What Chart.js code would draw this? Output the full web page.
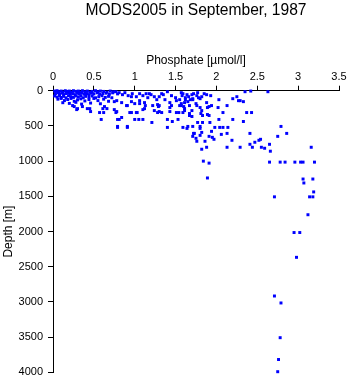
<!DOCTYPE html>
<html>
<head>
<meta charset="utf-8">
<title>MODS2005 phosphate profile</title>
<script src="https://cdn.jsdelivr.net/npm/chart.js@4.4.1/dist/chart.umd.min.js"></script>
<style>
  html, body { margin: 0; padding: 0; background: #fff; }
  #chart { display: block; }
</style>
</head>
<body>
<canvas id="chart" width="350" height="384"></canvas>
<script>
// Phosphate [umol/l] vs depth [m], one [phosphate, depth] pair per sample
const surfaceLayer = [
  [0.02, 5], [0.05, 0], [0.07, 15], [0.10, 5], [0.12, 20], [0.15, 0], [0.17, 10], [0.20, 5],
  [0.22, 20], [0.25, 0], [0.28, 10], [0.31, 5], [0.33, 20], [0.36, 0], [0.39, 15], [0.42, 5],
  [0.45, 20], [0.48, 10], [0.52, 0], [0.55, 15], [0.58, 5], [0.62, 10], [0.66, 20], [0.70, 5],
  [0.74, 15],
  [0.03, 40], [0.06, 30], [0.08, 50], [0.11, 35], [0.13, 55], [0.16, 40], [0.19, 30], [0.21, 50],
  [0.24, 40], [0.27, 55], [0.30, 35], [0.32, 45], [0.35, 30], [0.38, 50], [0.41, 40], [0.44, 55],
  [0.47, 35], [0.50, 45], [0.54, 30], [0.57, 50], [0.61, 40], [0.65, 35], [0.69, 50], [0.73, 30],
  [0.79, 45],
  [0.02, 75], [0.05, 90], [0.08, 70], [0.10, 95], [0.13, 80], [0.16, 100], [0.19, 70], [0.22, 85],
  [0.25, 95], [0.28, 75], [0.31, 90], [0.34, 70], [0.37, 100], [0.40, 80], [0.44, 90], [0.48, 75],
  [0.52, 100], [0.56, 85], [0.60, 70], [0.64, 95], [0.68, 80], [0.72, 100],
  [0.06, 120], [0.10, 110], [0.14, 140], [0.18, 125], [0.22, 110], [0.26, 150], [0.30, 130],
  [0.34, 115], [0.39, 145], [0.44, 125], [0.50, 110], [0.55, 140], [0.62, 120], [0.68, 150],
  [0.12, 170], [0.20, 180], [0.28, 165], [0.35, 190], [0.46, 175], [0.58, 185]
];

const upperLayer = [
  [0.26, 225], [0.29, 268], [0.42, 254], [0.46, 296], [0.57, 310], [0.61, 254], [0.66, 254],
  [0.75, 268], [0.59, 408], [0.79, 408], [0.79, 507], [0.91, 507], [0.63, 225], [0.24, 211],
  [0.36, 225], [0.62, 310], [0.77, 310], [0.84, 380], [0.94, 310], [1.02, 310], [0.45, 254],
  [0.30, 254],
  [0.77, 14], [0.81, 28], [0.88, 28], [0.97, 42], [1.06, 42], [1.14, 42], [1.18, 42], [1.33, 42],
  [1.40, 14], [1.57, 28], [0.96, 85], [1.02, 85], [1.16, 99], [1.24, 85], [1.37, 127], [1.51, 141],
  [1.55, 127], [0.75, 155], [0.84, 169], [0.96, 155], [1.00, 183], [1.06, 183], [1.13, 211],
  [1.27, 127], [1.28, 197], [1.43, 169], [1.45, 211], [0.91, 211], [0.78, 296], [0.96, 310],
  [1.03, 310], [1.24, 282], [1.28, 310], [1.33, 310], [1.43, 296], [1.54, 310], [1.10, 268],
  [0.81, 408], [1.00, 408], [1.05, 408], [1.10, 408], [1.21, 451], [1.40, 408], [1.46, 437],
  [1.53, 408], [0.79, 521], [0.91, 521], [1.40, 521], [1.59, 521], [1.73, 606],
  [1.12, 254], [1.22, 211], [1.30, 211], [1.51, 310], [1.61, 254], [1.67, 352], [1.83, 352],
  [1.91, 352], [2.02, 239], [1.89, 239], [1.76, 211], [1.57, 211], [1.43, 239], [2.29, 141],
  [1.91, 648], [1.95, 662], [1.75, 676], [2.54, 690], [0.78, 141], [0.90, 211], [1.06, 141],
  [1.12, 169], [1.29, 225], [1.30, 296], [1.55, 211], [1.61, 169], [1.67, 324], [1.71, 113],
  [1.58, 70], [1.62, 99], [1.66, 85], [1.72, 42], [1.68, 127], [1.62, 127], [1.85, 42], [1.78, 99],
  [0.85, 56], [0.92, 70], [1.10, 70], [1.20, 56], [1.30, 85], [1.45, 70], [1.35, 56], [1.50, 99]
];

const thermoclineLayer = [
  [1.59, 42], [1.64, 56], [1.70, 56], [1.76, 70], [1.77, 28], [1.82, 85], [1.88, 56], [1.93, 70],
  [2.35, 14], [2.42, 5], [2.63, 14], [2.20, 113], [2.25, 85], [2.27, 141], [2.33, 155], [2.03, 127],
  [1.57, 183], [1.60, 225], [1.65, 155], [1.71, 127], [1.75, 183], [1.80, 113], [1.88, 169],
  [2.13, 211], [1.91, 225], [1.94, 211], [1.80, 239], [1.67, 211], [1.61, 282], [1.70, 282],
  [1.82, 282], [1.59, 310], [2.08, 310], [2.37, 310], [2.43, 310], [1.81, 324], [1.89, 338],
  [1.70, 366], [2.03, 408], [2.20, 408], [2.33, 437], [1.77, 451], [1.83, 451], [1.92, 451],
  [1.65, 507], [1.71, 507], [1.80, 507], [1.98, 521], [2.04, 521], [2.08, 521], [2.14, 521],
  [1.64, 535], [1.80, 535], [1.94, 577], [2.79, 507], [1.82, 592], [1.80, 634], [2.13, 606],
  [2.06, 620], [2.41, 606], [2.86, 606], [1.72, 606], [1.71, 648], [2.75, 648], [1.97, 690],
  [1.86, 718], [1.76, 718], [2.19, 704], [2.52, 704], [2.47, 732], [2.41, 761], [2.65, 761],
  [2.13, 803], [2.29, 803], [2.44, 803], [2.55, 803], [2.59, 817], [1.82, 831], [1.88, 803],
  [3.16, 803], [2.66, 859]
];

const deepLayer = [
  [1.84, 1000], [1.91, 1028], [2.65, 1014], [2.78, 1014], [2.84, 1014], [2.96, 1014], [3.03, 1014],
  [3.06, 1014], [3.20, 1014], [1.89, 1239], [3.06, 1254], [3.18, 1254], [3.07, 1310], [3.19, 1437],
  [2.71, 1507], [3.14, 1507], [3.18, 1507], [3.12, 1761], [2.95, 2014], [3.02, 2014], [2.98, 2366],
  [2.71, 2915], [2.79, 3014], [2.78, 3507], [2.76, 3817], [2.75, 3990]
];

const phosphateTicks = [0, 0.5, 1, 1.5, 2, 2.5, 3, 3.5];
const depthTicks = [0, 500, 1000, 1500, 2000, 2500, 3000, 3500, 4000];

const FONT = "'Liberation Sans', Arial, Helvetica, sans-serif";

const points = surfaceLayer.concat(upperLayer, thermoclineLayer, deepLayer)
  .map(([p, d]) => ({ x: p, y: d }));

function fixedTicks(values) {
  return function (scale) {
    scale.ticks = values.map(v => ({ value: v }));
  };
}

new Chart(document.getElementById('chart'), {
  type: 'scatter',
  data: {
    datasets: [{
      data: points,
      backgroundColor: '#0000ff',
      borderWidth: 0,
      pointStyle: 'rect',
      pointRadius: 2.1,
      pointHoverRadius: 2.1,
      clip: false
    }]
  },
  options: {
    responsive: false,
    animation: false,
    events: [],
    layout: { padding: { left: 0, right: 11, top: 0, bottom: 10 } },
    plugins: {
      legend: { display: false },
      tooltip: { enabled: false },
      title: {
        display: true,
        fullSize: false,   // centre over the plot area, not the canvas
        text: 'MODS2005 in September, 1987',
        color: '#000',
        font: { family: FONT, size: 15.6, weight: 'normal' },
        padding: { top: 1, bottom: 0 }
      }
    },
    scales: {
      x: {
        type: 'linear',
        position: 'top',
        min: 0,
        max: 3.5,
        afterBuildTicks: fixedTicks(phosphateTicks),
        afterFit: function (scale) { scale.height = 71; },
        ticks: {
          color: '#000',
          padding: 2,
          maxRotation: 0,
          font: { family: FONT, size: 11 },
          callback: v => String(v)
        },
        grid: { drawOnChartArea: false, color: '#000', tickLength: 5 },
        border: { display: true, color: '#000', width: 1 },
        title: {
          display: true,
          text: 'Phosphate [µmol/l]',
          color: '#000',
          font: { family: FONT, size: 12 },
          padding: { top: 34, bottom: 0 }
        }
      },
      y: {
        type: 'linear',
        position: 'left',
        reverse: true,
        min: 0,
        max: 4000,
        afterBuildTicks: fixedTicks(depthTicks),
        afterFit: function (scale) { scale.width = 53; },
        ticks: {
          color: '#000',
          padding: 5,
          font: { family: FONT, size: 11 },
          callback: v => String(v)
        },
        grid: { drawOnChartArea: false, color: '#000', tickLength: 5 },
        border: { display: true, color: '#000', width: 1 },
        title: {
          display: true,
          text: 'Depth [m]',
          color: '#000',
          font: { family: FONT, size: 12 },
          padding: { top: 1, bottom: 0 }
        }
      }
    }
  }
});
</script>
</body>
</html>
